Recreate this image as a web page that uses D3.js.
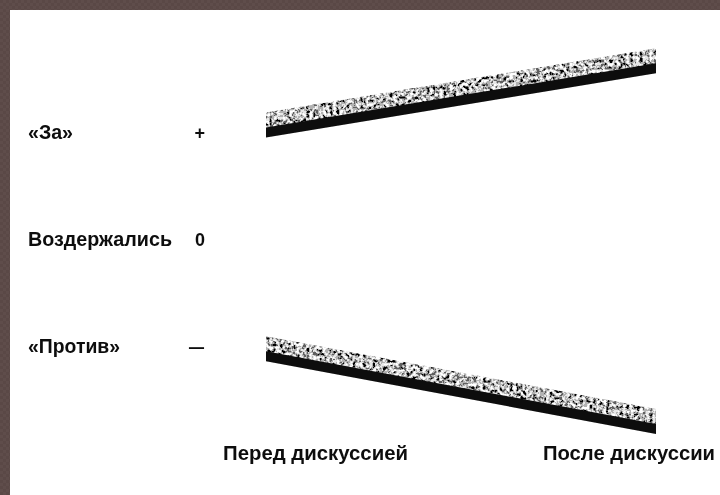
<!DOCTYPE html>
<html>
<head>
<meta charset="utf-8">
<script src="https://cdn.jsdelivr.net/npm/d3@7"></script>
<style>
  html, body { margin: 0; padding: 0; background: #fff; }
  svg { display: block; }
</style>
</head>
<body>
<div id="chart"></div>
<script>
// attitude levels (left side)
const positions = ["«За»", "Воздержались", "«Против»"];
const signs = ["+", "0", "–"];
const levels = [1, 0, -1];

// the two moments
const stages = ["Перед дискуссией", "После дискуссии"];

// group attitude before / after (centre of each bar)
const proGroup = [1.07, 1.67];
const contraGroup = [-1.02, -1.70];

const width = 720, height = 495;

const svg = d3.select("#chart").append("svg")
    .attr("width", width).attr("height", height);

const defs = svg.append("defs");

// faint checkered brown frame
const pat = defs.append("pattern").attr("id", "frame")
    .attr("width", 6).attr("height", 6).attr("patternUnits", "userSpaceOnUse");
pat.append("rect").attr("width", 6).attr("height", 6).attr("fill", "#5f4d4b");
pat.append("rect").attr("width", 3).attr("height", 3).attr("fill", "#5a4846");
pat.append("rect").attr("x", 3).attr("y", 3).attr("width", 3).attr("height", 3).attr("fill", "#5a4846");

// speckled texture for the top face of each bar
const f = defs.append("filter").attr("id", "speckle")
    .attr("x", 0).attr("y", 0).attr("width", 1).attr("height", 1);
f.append("feTurbulence").attr("type", "fractalNoise")
    .attr("baseFrequency", 0.3).attr("numOctaves", 2).attr("seed", 11).attr("result", "n");
f.append("feColorMatrix").attr("type", "matrix")
    .attr("values", "0.33 0.33 0.33 0 0 0.33 0.33 0.33 0 0 0.33 0.33 0.33 0 0 0 0 0 0 1")
    .attr("result", "g");
const lin = f.append("feComponentTransfer").attr("result", "c");
["feFuncR", "feFuncG", "feFuncB"].forEach(function(k) {
    lin.append(k).attr("type", "linear").attr("slope", 3.2).attr("intercept", -1.05);
});
const ct = f.append("feComponentTransfer").attr("result", "t");
["feFuncR", "feFuncG", "feFuncB"].forEach(function(k) {
    ct.append(k).attr("type", "discrete").attr("tableValues", "0 0.12 0.45 0.8 1");
});
f.append("feGaussianBlur").attr("stdDeviation", 0.55).attr("result", "b");
f.append("feComposite").attr("in", "b").attr("in2", "SourceGraphic").attr("operator", "in");

const soft = defs.append("filter").attr("id", "soft");
soft.append("feGaussianBlur").attr("stdDeviation", 0.45);

svg.append("rect").attr("width", width).attr("height", height).attr("fill", "url(#frame)");
svg.append("rect").attr("x", 10).attr("y", 10)
    .attr("width", width - 10).attr("height", height - 10).attr("fill", "#fff");

// scales
const x = d3.scaleLinear().domain([0, 1]).range([266, 656]);
const y = d3.scaleLinear().domain([-1, 1]).range([346, 132]);

const font = "'Liberation Sans', Arial, sans-serif";
const fs = "20px";

// left labels
const nameWidths = [45, 144, 92];
svg.append("g").selectAll("text")
    .data(positions)
    .enter().append("text")
    .attr("x", 28)
    .attr("y", (d, i) => y(levels[i]) + 7)
    .attr("textLength", (d, i) => nameWidths[i])
    .attr("lengthAdjust", "spacingAndGlyphs")
    .style("font-family", font).style("font-weight", "bold").style("font-size", fs)
    .attr("fill", "#111")
    .attr("filter", "url(#soft)")
    .text(d => d);

// sign axis
const signAxis = svg.append("g")
    .attr("transform", "translate(205,0)")
    .call(d3.axisLeft(y).tickValues(levels).tickSize(0).tickPadding(0)
        .tickFormat((d, i) => signs[i]));
signAxis.select(".domain").remove();
signAxis.selectAll("text")
    .attr("dy", "0.36em")
    .style("font-family", font).style("font-weight", "bold").style("font-size", "18px")
    .attr("fill", "#111")
    .attr("filter", "url(#soft)");
signAxis.selectAll("text").filter((d, i) => i === 1).attr("textLength", 10).attr("lengthAdjust", "spacingAndGlyphs");
signAxis.selectAll("text").filter((d, i) => i === 2).attr("textLength", 17).attr("lengthAdjust", "spacingAndGlyphs");

// bottom labels
svg.append("text")
    .attr("x", x(0) - 43).attr("y", 460)
    .attr("textLength", 185).attr("lengthAdjust", "spacingAndGlyphs")
    .style("font-family", font).style("font-weight", "bold").style("font-size", fs)
    .attr("fill", "#111").attr("filter", "url(#soft)")
    .text(stages[0]);
svg.append("text")
    .attr("x", x(1) + 59).attr("y", 460)
    .attr("text-anchor", "end")
    .attr("textLength", 172).attr("lengthAdjust", "spacingAndGlyphs")
    .style("font-family", font).style("font-weight", "bold").style("font-size", fs)
    .attr("fill", "#111").attr("filter", "url(#soft)")
    .text(stages[1]);

// 3D-looking bars: speckled top face + dark front face
const lift = 12, topH = 15, frontH = 10;
function drawBar(vals) {
    const x0 = x(0), x1 = x(1);
    const c0 = y(vals[0]), c1 = y(vals[1]);
    const g = svg.append("g");
    const front = [
        [x0, c0 - lift + topH - 1], [x1, c1 - lift + topH - 1],
        [x1, c1 - lift + topH + frontH], [x0, c0 - lift + topH + frontH]
    ];
    g.append("polygon")
        .attr("points", front.map(p => p.join(",")).join(" "))
        .attr("fill", "#0a0a0a")
        .attr("filter", "url(#soft)");
    const top = [
        [x0, c0 - lift], [x1, c1 - lift],
        [x1, c1 - lift + topH], [x0, c0 - lift + topH]
    ];
    g.append("polygon")
        .attr("points", top.map(p => p.join(",")).join(" "))
        .attr("fill", "#fff")
        .attr("filter", "url(#speckle)");
}
drawBar(proGroup);
drawBar(contraGroup);
</script>
</body>
</html>
